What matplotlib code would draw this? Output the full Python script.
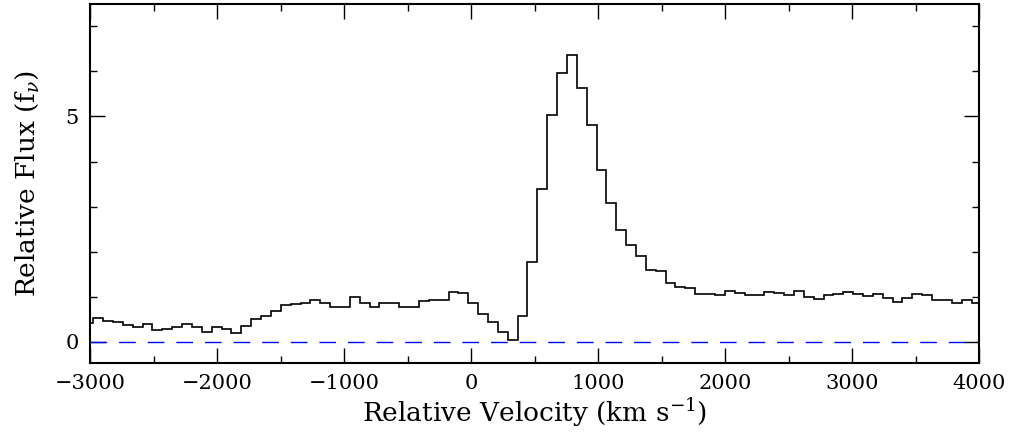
import numpy as np
import matplotlib
matplotlib.use("Agg")
import matplotlib.pyplot as plt
from matplotlib.ticker import MultipleLocator

# binned line profile: flux per velocity bin, bins of equal width
V_START = -3052.0    # left edge of the first bin (km/s)
BIN_WIDTH = 77.7     # km/s

flux = [
    0.41, 0.52, 0.46, 0.44, 0.37, 0.33, 0.39, 0.26, 0.28, 0.33,
    0.385, 0.32, 0.21, 0.32, 0.29, 0.20, 0.35, 0.50, 0.57, 0.69,
    0.81, 0.83, 0.85, 0.93, 0.87, 0.78, 0.78, 0.99, 0.87, 0.76,
    0.87, 0.87, 0.77, 0.77, 0.90, 0.93, 0.92, 1.11, 1.08, 0.87,
    0.61, 0.43, 0.21, 0.04, 0.57, 1.78, 3.40, 5.04, 5.96, 6.36,
    5.64, 4.80, 3.81, 3.08, 2.48, 2.14, 1.90, 1.59, 1.56, 1.30,
    1.21, 1.19, 1.05, 1.05, 1.04, 1.13, 1.07, 1.04, 1.04, 1.10,
    1.07, 1.04, 1.13, 1.00, 0.94, 1.03, 1.05, 1.10, 1.05, 1.02,
    1.05, 0.96, 0.89, 0.97, 1.05, 1.03, 0.93, 0.93, 0.86, 0.92,
    0.87,
]

edges = V_START + BIN_WIDTH * np.arange(len(flux) + 1)

plt.rcParams['font.family'] = ['DejaVu Serif']
plt.rcParams['mathtext.fontset'] = 'dejavuserif'

fig = plt.figure(figsize=(10.23, 4.32), dpi=100)
ax = fig.add_axes([0.088, 0.159, 0.869, 0.832])

ax.stairs(flux, edges, color='black', linewidth=1.2)
ax.axhline(0, color='blue', linewidth=1.0, dashes=(12, 8.6))

ax.set_xlim(-3000, 4000)
ax.set_ylim(-0.48, 7.5)

ax.xaxis.set_major_locator(MultipleLocator(1000))
ax.xaxis.set_minor_locator(MultipleLocator(500))
ax.yaxis.set_major_locator(MultipleLocator(5))
ax.yaxis.set_minor_locator(MultipleLocator(1))

ax.tick_params(which='both', direction='in', top=True, right=True,
               width=1.0, labelsize=15, colors='black')
ax.tick_params(which='major', length=11)
ax.tick_params(which='minor', length=5)
ax.tick_params(axis='x', which='major', pad=8)
ax.tick_params(axis='y', which='major', pad=8)

for s in ax.spines.values():
    s.set_linewidth(1.5)

ax.set_xlabel('Relative Velocity (km s$^{-1}$)', fontsize=19, va='center')
ax.set_ylabel('Relative Flux (f$_{\\nu}$)', fontsize=19, va='center')
ax.xaxis.set_label_coords(0.5, -0.136)
ax.yaxis.set_label_coords(-0.071, 0.5)

fig.savefig('out.png', dpi=100)
